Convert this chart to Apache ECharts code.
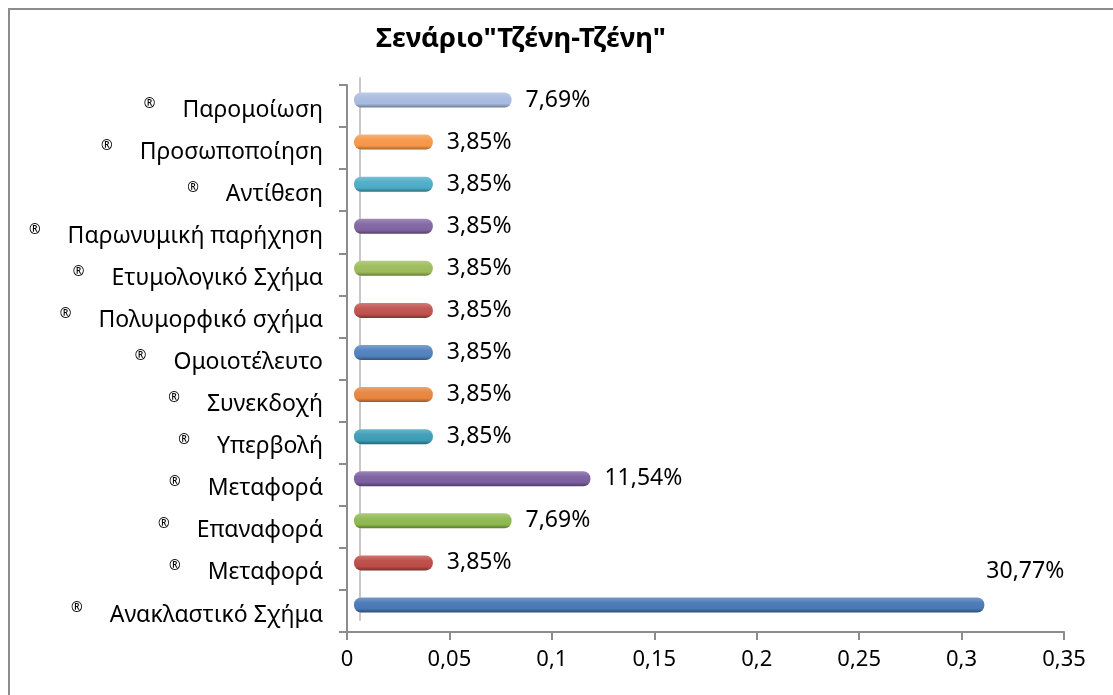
<!DOCTYPE html>
<html>
<head>
<meta charset="utf-8">
<script src="https://cdn.jsdelivr.net/npm/echarts@6/dist/echarts.min.js"></script>
<style>
html,body{margin:0;padding:0;background:#fff;}
#chart{width:1113px;height:695px;}
</style>
</head>
<body>
<div id="chart"></div>
<script>
const titleText = 'Σενάριο"Τζένη-Τζένη"';
const categories = ['Παρομοίωση','Προσωποποίηση','Αντίθεση','Παρωνυμική παρήχηση','Ετυμολογικό Σχήμα','Πολυμορφικό σχήμα','Ομοιοτέλευτο','Συνεκδοχή','Υπερβολή','Μεταφορά','Επαναφορά','Μεταφορά','Ανακλαστικό Σχήμα'];
const values = [0.0769,0.0385,0.0385,0.0385,0.0385,0.0385,0.0385,0.0385,0.0385,0.1154,0.0769,0.0385,0.3077];
const xTicks = [0,0.05,0.1,0.15,0.2,0.25,0.3,0.35];
const barColors = ['#A7BADF','#F79646','#4BACC6','#8064A2','#9BBB59','#C0504D','#4F81BD','#E6843C','#3B9CB5','#7A5EA0','#8CB84E','#BD4A45','#4777B5'];

function shade(hex, f){
  const n = parseInt(hex.slice(1),16);
  let r=(n>>16)&255,g=(n>>8)&255,b=n&255;
  if(f>0){r=r+(255-r)*f;g=g+(255-g)*f;b=b+(255-b)*f;}
  else{r=r*(1+f);g=g*(1+f);b=b*(1+f);}
  return 'rgb('+Math.round(r)+','+Math.round(g)+','+Math.round(b)+')';
}
function fmtPct(v){return (v*100).toFixed(2).replace('.',',')+'%';}

const font = 'Noto Sans';
const chart = echarts.init(document.getElementById('chart'));
const barData = values.map((v,i)=>{
  const c = barColors[i];
  const item = {
    value: v,
    itemStyle:{
      color:{type:'linear',x:0,y:0,x2:0,y2:1,colorStops:[
        {offset:0,color:shade(c,0.25)},
        {offset:0.35,color:shade(c,0.05)},
        {offset:0.75,color:c},
        {offset:1,color:shade(c,-0.35)}
      ]},
      borderRadius:7
    }
  };
  if(i===values.length-1){
    item.label = {position:'right', offset:[-12,-34]};
  }
  return item;
});

chart.setOption({
  animation:false,
  backgroundColor:'#fff',
  graphic:[{type:'rect',shape:{x:9,y:9,width:1200,height:800},style:{fill:'none',stroke:'#8c8c8c',lineWidth:2},silent:true}],
  title:{text:titleText,left:371,top:20,textStyle:{fontFamily:font,fontSize:27.5,fontWeight:'bold',color:'#000'}},
  grid:[
    {left:347,right:49,top:85,bottom:63},
    {left:354,right:42,top:79,bottom:69},
    {left:360,right:42,top:78,bottom:75}
  ],
  xAxis:[
    {gridIndex:0,type:'value',min:0,max:0.35,interval:0.05,
     axisLine:{show:true,lineStyle:{color:'#8c8c8c',width:2}},
     axisTick:{show:true,length:8,lineStyle:{color:'#8c8c8c',width:2}},
     splitLine:{show:false},
     axisLabel:{margin:17,fontFamily:font,fontSize:22,color:'#000',formatter:v=>String(+v.toFixed(2)).replace('.',',')}},
    {gridIndex:1,type:'value',min:0,max:0.35,show:false},
    {gridIndex:2,type:'value',min:0,max:0.35,show:false}
  ],
  yAxis:[
    {gridIndex:0,type:'category',inverse:true,data:categories,
     axisLine:{show:true,lineStyle:{color:'#8c8c8c',width:2}},
     axisTick:{show:true,length:8,lineStyle:{color:'#8c8c8c',width:2}},
     axisLabel:{margin:24,formatter:v=>'{r|®}{t|'+v+'}',
       rich:{r:{fontFamily:font,fontSize:14,color:'#000',padding:[6,27,0,0],verticalAlign:'top'},
             t:{fontFamily:font,fontSize:23,color:'#000',padding:[8,0,0,0]}}}},
    {gridIndex:1,type:'category',inverse:true,data:categories,show:false},
    {gridIndex:2,type:'category',inverse:true,data:categories,
     axisLine:{show:true,lineStyle:{color:'#c8c8c8',width:2}},axisTick:{show:false},axisLabel:{show:false}}
  ],
  series:[{
    type:'bar',xAxisIndex:1,yAxisIndex:1,barWidth:15,
    data:barData,
    label:{show:true,position:'right',distance:14,fontFamily:font,fontSize:23,color:'#000',formatter:p=>fmtPct(p.value)}
  }]
});
</script>
</body>
</html>
